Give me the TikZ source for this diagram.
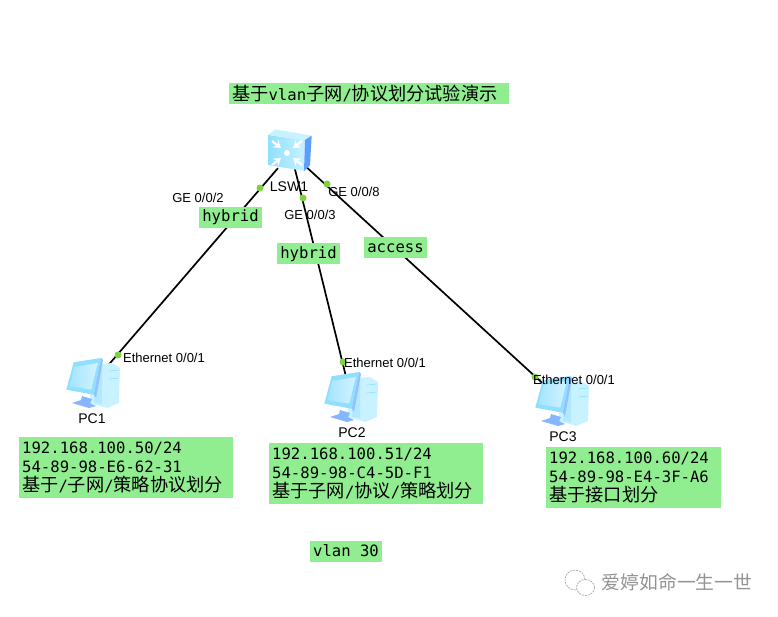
\documentclass[tikz,border=0pt]{standalone}
\usepackage{fontspec}
\setmainfont{Liberation Sans}
\newfontfamily\monofont{DejaVu Sans Mono}
\newfontfamily\cjk{Noto Sans CJK SC}
\usetikzlibrary{arrows.meta}
\definecolor{boxgreen}{HTML}{90EE90}
\definecolor{portgreen}{HTML}{80D040}
\definecolor{scrblue}{HTML}{8FDFFF}
\definecolor{sideblue}{HTML}{5C9EFF}
\definecolor{lightblue}{HTML}{C8F2FF}
\newcommand{\zh}[1]{{\cjk\fontsize{18.2}{19}\selectfont #1}}

\tikzset{
  switchicon/.pic={
    \shade[left color=scrblue, right color=lightblue] (-21.7,-15) -- (15,-10) -- (14,21) -- (-21.7,15) -- cycle;
    \fill[lightblue] (-21.7,-15) -- (-15,-20.7) -- (21.7,-14.3) -- (15,-10) -- cycle;
    \fill[sideblue] (15,-10) -- (21.7,-14.3) -- (20,15) -- (14,21) -- cycle;
    \fill[white] (-3,3) circle (3);
    \foreach \dx/\dy in {-1/-1,1/-1,-1/1,1/1}
      \draw[white, line width=2.2pt, -{Stealth[length=7pt,width=9pt]}]
        (-3+15*\dx,3+12*\dy) -- (-3+6*\dx,3+5*\dy);
  },
  pcicon/.pic={
    % tower
    \fill[lightblue] (-3,-18) -- (19,-20) -- (27,-15) -- (26,20) -- (14,25) -- (-3,20) -- cycle;
    \fill[scrblue!70!white] (4,-17) -- (9,-18) -- (9,21) -- (1,20) -- cycle;
    \draw[scrblue, line width=0.6pt] (16,-12) -- (26,-13) (16,-4) -- (26,-5);
    % stand
    \fill[sideblue!75!white] (-11,13) -- (-1,16) -- (-3,20) -- (3,23) -- (-4,25) -- (-21,20) -- (-12,17) -- cycle;
    % monitor
    \fill[sideblue!65!white] (8,-25) -- (10,-23) -- (3,15) -- (0.7,11.7) -- cycle;
    \fill[scrblue] (-19.3,-20.7) -- (8,-25) -- (0.7,11.7) -- (-26.7,6.7) -- cycle;
    \shade[left color=scrblue!80!white, right color=white!60!scrblue] (-18.7,-16) -- (4.7,-20) -- (-1.7,6.7) -- (-23.3,3.3) -- cycle;
  }
}

\begin{document}
\begin{tikzpicture}[x=1pt, y=-1pt]

% Styles
\tikzstyle{device} = [rectangle, minimum size=30pt, inner sep=0pt]
\tikzstyle{link} = [line width=1.7pt, black]
\tikzstyle{port} = [circle, fill=portgreen, minimum size=7pt, inner sep=0pt]
\tikzstyle{ifname} = [inner sep=0pt, font=\fontsize{13}{15}\selectfont]
\tikzstyle{devname} = [inner sep=0pt, font=\fontsize{14}{16}\selectfont]
\tikzstyle{tag} = [fill=boxgreen, inner sep=0pt, text centered,
    font=\monofont\fontsize{15.6}{19}\selectfont]
\tikzstyle{info} = [tag, align=left, inner xsep=3pt, anchor=north west]

\path[use as bounding box] (0,0) rectangle (778,617);

% Devices
\node (lsw1) [device] at (291,153) {};
\node (pc1) [device] at (93,383) {};
\node (pc2) [device] at (351,397) {};
\node (pc3) [device] at (562,401) {};

% Links
\draw [link] (lsw1) -- (pc1);
\draw [link] (lsw1) -- (pc2);
\draw [link] (lsw1) -- (pc3);

% Icons
\pic at (290,150) {switchicon};
\pic at (pc1) {pcicon};
\pic at (pc2) {pcicon};
\pic at (pc3) {pcicon};

% Ports
\node (p1) [port] at (260,188) {};
\node (p2) [port] at (303,198) {};
\node (p3) [port] at (327,184) {};
\node (p4) [port] at (118,355) {};
\node (p5) [port] at (343,362) {};
\node (p6) [port] at (535,377) {};

% Names
\node (lswname) [devname] at (289,187) {LSW1};
\node (pc1name) [devname] at (92,419) {PC1};
\node (pc2name) [devname] at (352,433) {PC2};
\node (pc3name) [devname] at (563,437) {PC3};
\node (ge2) [ifname] at (198,198) {GE 0/0/2};
\node (ge3) [ifname] at (310,215) {GE 0/0/3};
\node (ge8) [ifname] at (354,192) {GE 0/0/8};
\node (eth1) [ifname] at (164,358) {Ethernet 0/0/1};
\node (eth2) [ifname] at (385,363) {Ethernet 0/0/1};
\node (eth3) [ifname] at (574,380) {Ethernet 0/0/1};

% Green labels
\node (title) [info, text width=274pt, minimum height=21pt] at (229,83)
    {\zh{基于}vlan\zh{子网}/\zh{协议划分试验演示}};
\node (mode1) [tag, minimum width=63pt, minimum height=21pt] at (230.5,217.5) {hybrid};
\node (mode2) [tag, minimum width=63pt, minimum height=21pt] at (308.5,254) {hybrid};
\node (mode3) [tag, minimum width=63pt, minimum height=21pt] at (395.5,248) {access};
\node (vlan) [tag, minimum width=72pt, minimum height=21pt] at (346,551) {vlan 30};
\node (info1) [info, text width=208pt, minimum height=61pt] at (19,437)
    {192.168.100.50/24\\54-89-98-E6-62-31\\\zh{基于}/\zh{子网}/\zh{策略协议划分}};
\node (info2) [info, text width=208pt, minimum height=61pt] at (269,443)
    {192.168.100.51/24\\54-89-98-C4-5D-F1\\\zh{基于子网}/\zh{协议}/\zh{策略划分}};
\node (info3) [info, text width=169pt, minimum height=61pt] at (546,447)
    {192.168.100.60/24\\54-89-98-E4-3F-A6\\\zh{基于接口划分}};

% Watermark
\draw [gray!70, dash pattern=on 2pt off 1pt, line width=0.7pt] (575,580) ellipse (10 and 10);
\draw [gray!70, dash pattern=on 2pt off 1pt, line width=0.7pt, fill=white] (585.5,587.5) ellipse (9 and 8);
\node (mark) [inner sep=0pt, text=gray!85, font=\cjk\fontsize{18.8}{20}\selectfont] at (677,582) {爱婷如命一生一世};

\end{tikzpicture}
\end{document}
